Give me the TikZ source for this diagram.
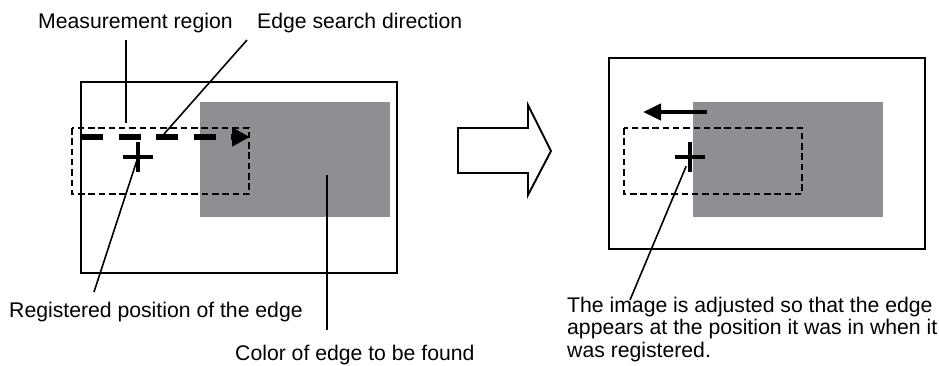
\documentclass[tikz,border=0pt]{standalone}
\usepackage{fontspec}
\setmainfont{Liberation Sans}
\usetikzlibrary{arrows.meta}
\definecolor{edgegray}{HTML}{8F8E93}

\begin{document}
\begin{tikzpicture}[
  x=1pt, y=-1pt,
  frame/.style={draw=black, line width=2.2pt},
  target/.style={fill=edgegray},
  region/.style={draw=black, line width=2.9pt, dash pattern=on 6.5pt off 3.8pt},
  search/.style={draw=black, line width=6.5pt, dash pattern=on 22pt off 15.5pt,
                 -{Triangle[length=18pt, width=18pt]}},
  moved/.style={draw=black, line width=4pt, -{Triangle[length=18pt, width=16pt]}},
  plusmark/.style={draw=black, line width=4pt},
  leader/.style={draw=black, line width=1.6pt},
  bigarrow/.style={draw=black, line width=1.9pt, fill=white, line join=miter},
  lab/.style={font=\fontsize{21.2}{22.5}\selectfont, inner sep=0pt},
]
\useasboundingbox (0,0) rectangle (939,365);
% ---- left view: registered image ----
\draw[frame] (81,82) rectangle (397,273);
\fill[target] (200,102) rectangle (390,217);
\draw[region] (72,128) rectangle (249,194);
\draw[search] (81,137) -- (250,137);
\coordinate (reg) at (138,157);
\draw[plusmark] (reg) ++(-15,0) -- ++(30,0) (reg) ++(0,-15) -- ++(0,30);
% ---- labels of the left view ----
\node[lab, anchor=base west] (mlab) at (38,28) {Measurement region};
\node[lab, anchor=base west] (slab) at (257,28) {Edge search direction};
\node[lab, anchor=base west] (rlab) at (9,317) {Registered position of the edge};
\node[lab, anchor=base west] (clab) at (235,360) {Color of edge to be found};
\coordinate (mtip) at (126,123);
\coordinate (stip) at (164,134);
\coordinate (ctip) at (327,175);
\draw[leader] (mtip |- 0,40) -- (mtip);
\draw[leader] (247,40) -- (stip);
\draw[leader] (94,292) -- (reg);
\draw[leader] (ctip) -- (ctip |- 0,330);
% ---- hollow arrow between views ----
\draw[bigarrow] (458,128) -- (528,128) -- (528,105) -- (551,151) -- (528,195)
  -- (528,173) -- (458,173) -- cycle;
% ---- right view: adjusted image ----
\draw[frame] (609,58) rectangle (925,249);
\fill[target] (693,102) rectangle (883,217);
\draw[region] (624,128) rectangle (802,194);
\coordinate (movestart) at (707,112);
\coordinate (moveend) at (643,112);
\draw[moved] (movestart) -- (moveend);
\coordinate (adj) at (690,157);
\draw[plusmark] (adj) ++(-15,0) -- ++(30,0) (adj) ++(0,-15) -- ++(0,30);
\node[lab, anchor=base west, align=left] (alab) at (567,357)
  {The image is adjusted so that the edge\\appears at the position it was in when it\\was registered.};
\draw[leader, shorten >=10pt] (630,300) -- (adj);
\end{tikzpicture}
\end{document}
